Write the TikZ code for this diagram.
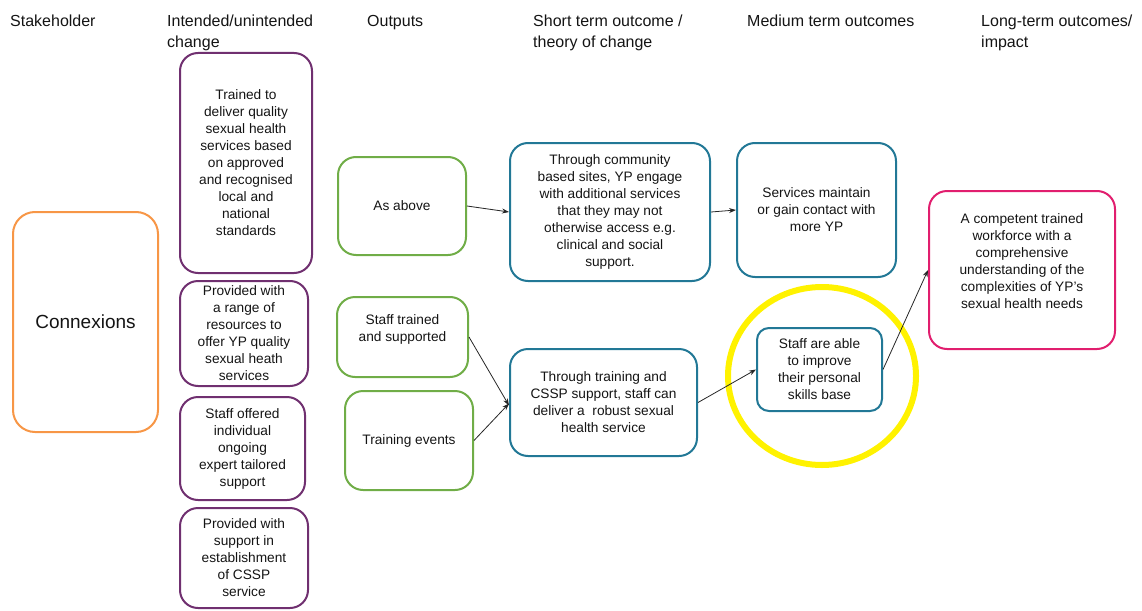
\documentclass[tikz,border=0pt]{standalone}
\usepackage{fontspec}
\setmainfont{Liberation Sans}
\usetikzlibrary{arrows.meta}
\definecolor{cOrange}{RGB}{247,150,70}
\definecolor{cPurple}{RGB}{112,48,112}
\definecolor{cGreen}{RGB}{112,173,71}
\definecolor{cBlue}{RGB}{34,120,150}
\definecolor{cPink}{RGB}{225,30,110}
\definecolor{cText}{RGB}{20,20,20}
\begin{document}
\begin{tikzpicture}[x=1pt,y=-1pt,
  box/.style={draw, line width=2pt, rounded corners=18pt, align=center, inner sep=0pt,
     font=\fontsize{13.7}{17}\selectfont, text=cText},
  smallbox/.style={box, rounded corners=12pt},
  txt/.style={align=center, inner sep=0pt, font=\fontsize{13.7}{17}\selectfont, text=cText},
  head/.style={anchor=north west, align=left, inner sep=0pt, font=\fontsize{16}{21}\selectfont, text=cText},
  conn/.style={line width=0.8pt, draw=black!85, -{Stealth[length=7pt,width=5pt]}}]
\useasboundingbox (0,0) rectangle (1142,610);
% headers
\node[head] (h1) at (10,15) {Stakeholder};
\node[head] (h2) at (167,15) {Intended/unintended\\change};
\node[head] (h3) at (367,15) {Outputs};
\node[head] (h4) at (533,15) {Short term outcome /\\theory of change};
\node[head] (h5) at (747,15) {Medium term outcomes};
\node[head] (h6) at (981,15) {Long-term outcomes/\\impact};
% stakeholder
\node[box, draw=cOrange, rounded corners=22pt, minimum width=145, minimum height=220,
  font=\fontsize{19}{22}\selectfont] (con) at (85.5,322) {Connexions};
% intended / unintended change
\node[box, draw=cPurple, minimum width=132, minimum height=220] (p1) at (246,163)
  {Trained to\\deliver quality\\sexual health\\services based\\on approved\\and recognised\\local and\\national\\standards};
\node[box, draw=cPurple, minimum width=128, minimum height=105] (p2) at (244,333.5)
  {Provided with\\a range of\\resources to\\offer YP quality\\sexual heath\\services};
\node[box, draw=cPurple, minimum width=125, minimum height=103] (p3) at (242.5,448.5)
  {Staff offered\\individual\\ongoing\\expert tailored\\support};
\node[box, draw=cPurple, minimum width=128, minimum height=100] (p4) at (244,558)
  {Provided with\\support in\\establishment\\of CSSP\\service};
% outputs
\node[box, draw=cGreen, minimum width=128, minimum height=98] (g1) at (402,206) {As above};
\node[box, draw=cGreen, minimum width=131, minimum height=80] (g2) at (402.5,337) {};
\node[txt] (g2t) at (402.5,329) {Staff trained\\and supported};
\node[box, draw=cGreen, minimum width=128, minimum height=99] (g3) at (409,440.5) {Training events};
% short term
\node[box, draw=cBlue, minimum width=200, minimum height=138] (b1) at (610,212)
  {Through community\\based sites, YP engage\\with additional services\\that they may not\\otherwise access e.g.\\clinical and social\\support.};
\node[box, draw=cBlue, minimum width=187, minimum height=107] (b3) at (603.5,402.5)
  {Through training and\\CSSP support, staff can\\deliver a\ \ robust sexual\\health service};
% medium term
\node[box, draw=cBlue, minimum width=159, minimum height=134] (b2) at (816.5,210)
  {Services maintain\\or gain contact with\\more YP};
\node[smallbox, draw=cBlue, minimum width=125, minimum height=83] (b4) at (819.5,369.5)
  {Staff are able\\to improve\\their personal\\skills base};
% long term
\node[box, draw=cPink, minimum width=186, minimum height=158] (pk) at (1022,270) {};
\node[txt] (pkt) at (1022,261) {A competent trained\\workforce with a\\comprehensive\\understanding of the\\complexities of YP's\\sexual health needs};
% highlight
\draw[yellow, line width=6pt] (822,376) ellipse [x radius=94, y radius=89];
% connectors
\draw[conn] (g1.east) -- (b1.west);
\draw[conn] (b1.east) -- (b2.west);
\draw[conn] (g2.east) -- ([yshift=-3pt]b3.west);
\draw[conn] (g3.east) -- ([yshift=-1pt]b3.west);
\draw[conn] (b3.east) -- (b4.west);
\draw[conn] (b4.east) -- (pk.west);
\end{tikzpicture}
\end{document}
